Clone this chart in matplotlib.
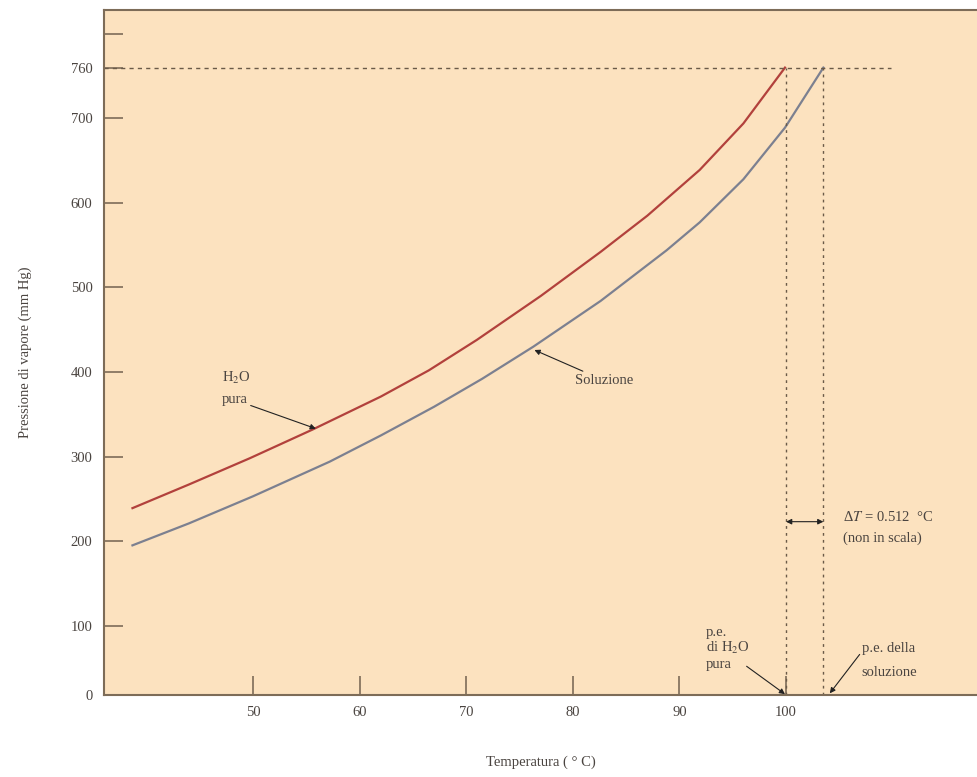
import matplotlib
matplotlib.use("Agg")
import matplotlib.pyplot as plt

# ---- data ----
temp_pure = [38.7, 44, 49.7, 55.6, 62, 66.5, 71, 77, 82.6, 87, 91.9, 96, 99.9]
pres_pure = [239, 267, 298, 332, 371, 402, 438, 490, 542, 585, 639, 694, 760]

temp_sol = [38.7, 44, 50, 57.2, 62, 67, 71.5, 76.3, 82.6, 88.8, 91.9, 96, 99.9, 103.5]
pres_sol = [195, 221, 253, 294, 325, 359, 392, 430, 484, 544, 577, 628, 689, 760]

x_ticks = [50, 60, 70, 80, 90, 100]
y_ticks = [100, 200, 300, 400, 500, 600, 700, 760, 800]
y_tick_labels = ["100", "200", "300", "400", "500", "600", "700", "760", ""]

bp_pure = 100.0
bp_sol = 103.5
p_atm = 760

plt.rcParams['font.family'] = ['Liberation Serif', 'DejaVu Serif']
plt.rcParams['mathtext.fontset'] = 'stix'

bg = '#fce2bf'
spine_c = '#7d6c58'
txt_c = '#4a4440'

fig = plt.figure(figsize=(9.78, 7.77), dpi=100)
ax = fig.add_axes([0.106, 0.1055, 0.894, 0.8815])
ax.set_facecolor(bg)

ax.set_xlim(36.0, 118.0)
ylo = 18
ax.set_ylim(ylo, 828)

ax.plot(temp_pure, pres_pure, color='#b2413c', lw=1.6, solid_joinstyle='round')
ax.plot(temp_sol, pres_sol, color='#7c8090', lw=1.6, solid_joinstyle='round')

# dotted guide lines
ax.plot([36.0, 109.8], [p_atm, p_atm], color='#6a5a48', lw=1.0, ls=(0, (3, 3)))
ax.plot([bp_pure, bp_pure], [ylo, p_atm], color='#6a5a48', lw=1.0, ls=(0, (2, 3)))
ax.plot([bp_sol, bp_sol], [ylo, p_atm], color='#6a5a48', lw=1.0, ls=(0, (2, 3)))

# double arrow delta T
ax.annotate('', xy=(bp_pure, 223), xytext=(bp_sol, 223),
            arrowprops=dict(arrowstyle='<|-|>', color='#222222', lw=0.8,
                            mutation_scale=8, shrinkA=0, shrinkB=0))

ax.text(105.3, 228, r'Δ$T$ = 0.512  °C', fontsize=10.5, color=txt_c,
        ha='left', va='center')
ax.text(105.3, 203, '(non in scala)', fontsize=10.5, color=txt_c,
        ha='left', va='center')

# annotations
ap = dict(arrowstyle='-|>', color='#222222', lw=0.8, mutation_scale=8,
          shrinkA=0, shrinkB=0)
ax.text(47.1, 393, 'H$_2$O', fontsize=10.5, color=txt_c, ha='left', va='center')
ax.annotate('pura', xy=(55.9, 333), xytext=(47.1, 367), fontsize=10.5,
            color=txt_c, ha='left', va='center', arrowprops=ap)
ax.annotate('Soluzione', xy=(76.4, 426), xytext=(80.2, 390), fontsize=10.5,
            color=txt_c, ha='left', va='center', arrowprops=ap)

ax.text(92.5, 92, 'p.e.', fontsize=10.5, color=txt_c, ha='left', va='center')
ax.text(92.5, 73.5, 'di H$_2$O', fontsize=10.5, color=txt_c, ha='left', va='center')
ax.text(92.5, 54.6, 'pura', fontsize=10.5, color=txt_c, ha='left', va='center')
ax.annotate('', xy=(99.9, ylo + 1), xytext=(96.3, 52), arrowprops=ap)

ax.text(107.1, 73.5, 'p.e. della', fontsize=10.5, color=txt_c, ha='left', va='center')
ax.text(107.1, 45, 'soluzione', fontsize=10.5, color=txt_c, ha='left', va='center')
ax.annotate('', xy=(104.1, ylo + 2), xytext=(106.9, 66), arrowprops=ap)

# axes styling
for s in ['left', 'bottom', 'top']:
    ax.spines[s].set_color(spine_c)
    ax.spines[s].set_linewidth(1.5)
ax.spines['right'].set_visible(False)

ax.set_xticks(x_ticks)
ax.set_xticklabels([str(v) for v in x_ticks])
ax.set_yticks([ylo] + y_ticks)
ax.set_yticklabels(["0"] + y_tick_labels)
ax.tick_params(axis='both', direction='in', length=14, width=1.2,
               color=spine_c, labelcolor=txt_c, labelsize=10.5)
ax.tick_params(axis='x', pad=8)
ax.tick_params(axis='y', pad=8)

ax.set_xlabel('Temperatura ( ° C)', fontsize=10.5, color=txt_c, labelpad=26)
ax.set_ylabel('Pressione di vapore (mm Hg)', fontsize=10.5, color=txt_c, labelpad=28)

fig.savefig('out.png', dpi=100, facecolor='white')
